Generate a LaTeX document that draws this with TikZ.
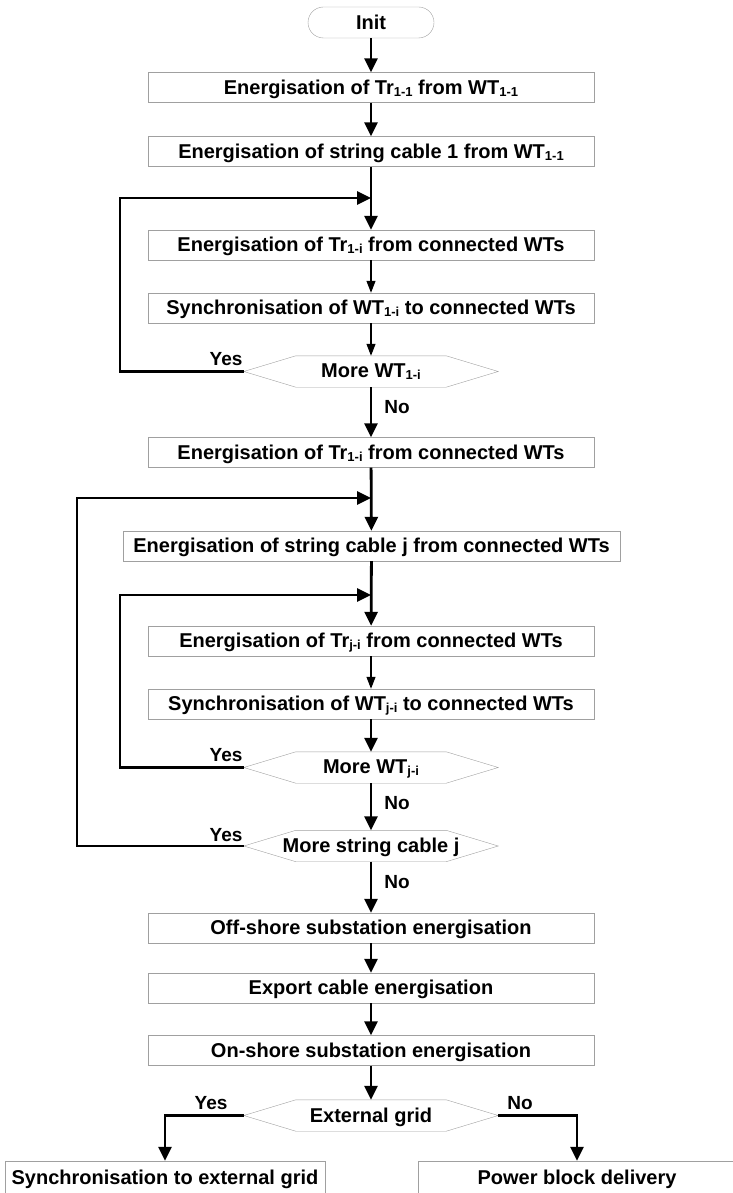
\documentclass[tikz,border=0pt]{standalone}
\usepackage{fontspec}
\setmainfont{Liberation Sans}
\usetikzlibrary{positioning,arrows.meta}
\definecolor{frameColor}{RGB}{160,160,160}
\definecolor{arrowColor}{RGB}{0,0,0}
\newcommand{\lowidx}[1]{\raisebox{-2pt}{\fontsize{13}{13}\selectfont #1}}
\newcommand{\hexframe}[1]{%
	\draw[hexline] (#1.west) -- ([xshift=52pt]#1.north west) -- ([xshift=-52pt]#1.north east)
		-- (#1.east) -- ([xshift=-52pt]#1.south east) -- ([xshift=52pt]#1.south west) -- cycle;}

\begin{document}
\begin{tikzpicture}[
		x=1pt, y=-1pt,
		% Define styles for nodes
		stepbox/.style={
				draw=frameColor,
				rectangle,
				minimum width=446pt,
				minimum height=30pt,
				inner sep=0pt,
				text depth=1pt,
				font=\fontsize{20}{24}\selectfont\bfseries
			},
		startbox/.style={
				stepbox,
				minimum width=126pt,
				minimum height=31pt,
				rounded corners=15.5pt
			},
		testbox/.style={
				rectangle,
				minimum width=254pt,
				minimum height=31pt,
				inner sep=0pt,
				text depth=1pt,
				font=\fontsize{20}{24}\selectfont\bfseries
			},
		hexline/.style={
				draw=frameColor
			},
		arrow/.style={
				-{Triangle[length=14pt,width=13pt]},
				line width=2.8pt,
				draw=arrowColor
			},
		thinarrow/.style={
				-{Triangle[length=12pt,width=9pt]},
				line width=1.2pt,
				draw=arrowColor
			},
		answer/.style={
				font=\fontsize{19}{22}\selectfont\bfseries
			}
	]

	\useasboundingbox (0,0) rectangle (732,1193);

	% Start and first string
	\node[startbox] (init) at (371,22.5) {Init};
	\node[stepbox] (trfirst) at (371,87.5) {Energisation of Tr\lowidx{1-1} from WT\lowidx{1-1}};
	\node[stepbox] (cablefirst) at (371,151.5) {Energisation of string cable 1 from WT\lowidx{1-1}};

	% Inner loop of string 1
	\coordinate (join1) at (371,198);
	\coordinate (loop1) at (120,198);
	\node[stepbox] (tronei) at (371,245) {Energisation of Tr\lowidx{1-i} from connected WTs};
	\node[stepbox] (synconei) at (371,308) {Synchronisation of WT\lowidx{1-i} to connected WTs};
	\node[testbox] (morewtone) at (371,371.5) {More WT\lowidx{1-i}};
	\hexframe{morewtone}
	\node[stepbox] (troneilast) at (371,452.5) {Energisation of Tr\lowidx{1-i} from connected WTs};

	% Loop over string cables
	\coordinate (join2) at (371,498);
	\coordinate (loop2) at (77,498);
	\node[stepbox, minimum width=497pt] (cablej) at (371.5,546) {Energisation of string cable j from connected WTs};

	% Inner loop of string j
	\coordinate (join3) at (371,595);
	\coordinate (loop3) at (120,595);
	\node[stepbox] (trji) at (371,641) {Energisation of Tr\lowidx{j-i} from connected WTs};
	\node[stepbox] (syncji) at (371,704) {Synchronisation of WT\lowidx{j-i} to connected WTs};
	\node[testbox] (morewtj) at (371,767.5) {More WT\lowidx{j-i}};
	\hexframe{morewtj}
	\node[testbox] (morecable) at (371,846) {More string cable j};
	\hexframe{morecable}

	% Substations and export cable
	\node[stepbox] (offshore) at (371,928) {Off-shore substation energisation};
	\node[stepbox] (export) at (371,988) {Export cable energisation};
	\node[stepbox] (onshore) at (371,1050.5) {On-shore substation energisation};
	\node[testbox] (extgrid) at (371,1115.5) {External grid};
	\hexframe{extgrid}

	% Final outcomes
	\node[stepbox, minimum width=320pt, minimum height=34pt] (gridsync) at (165,1178) {Synchronisation to external grid};
	\node[stepbox, minimum width=318pt, minimum height=34pt] (powerblock) at (577,1178) {Power block delivery};

	% ARROWS: main flow
	\draw[arrow] (init) -- (trfirst);
	\draw[arrow] (trfirst) -- (cablefirst);
	\draw[arrow] (cablefirst) -- (tronei);
	\draw[thinarrow] (tronei) -- (synconei);
	\draw[thinarrow] (synconei) -- (morewtone);
	\draw[arrow] (morewtone) -- (troneilast);
	\draw[arrow] (troneilast) -- (cablej);
	\draw[arrow] (cablej) -- (trji);
	\draw[thinarrow] (trji) -- (syncji);
	\draw[arrow] (syncji) -- (morewtj);
	\draw[arrow] (morewtj) -- (morecable);
	\draw[arrow] (morecable) -- (offshore);
	\draw[arrow] (offshore) -- (export);
	\draw[arrow] (export) -- (onshore);
	\draw[arrow] (onshore) -- (extgrid);

	% ARROWS: loops back
	\draw[arrow] (morewtone.west) -| (loop1) -- (join1);
	\draw[arrow] (morewtj.west) -| (loop3) -- (join3);
	\draw[arrow] (morecable.west) -| (loop2) -- (join2);

	% ARROWS: outcomes
	\draw[arrow] (extgrid.west) -| (gridsync.north);
	\draw[arrow] (extgrid.east) -| (powerblock.north);

	% Answer labels
	\node[answer] (yes1) at (226,359) {Yes};
	\node[answer] (no1) at (397,407) {No};
	\node[answer] (yes2) at (226,755) {Yes};
	\node[answer] (no2) at (397,803) {No};
	\node[answer] (yes3) at (226,835) {Yes};
	\node[answer] (no3) at (397,882) {No};
	\node[answer] (yes4) at (211,1103) {Yes};
	\node[answer] (no4) at (520,1103) {No};

\end{tikzpicture}
\end{document}
